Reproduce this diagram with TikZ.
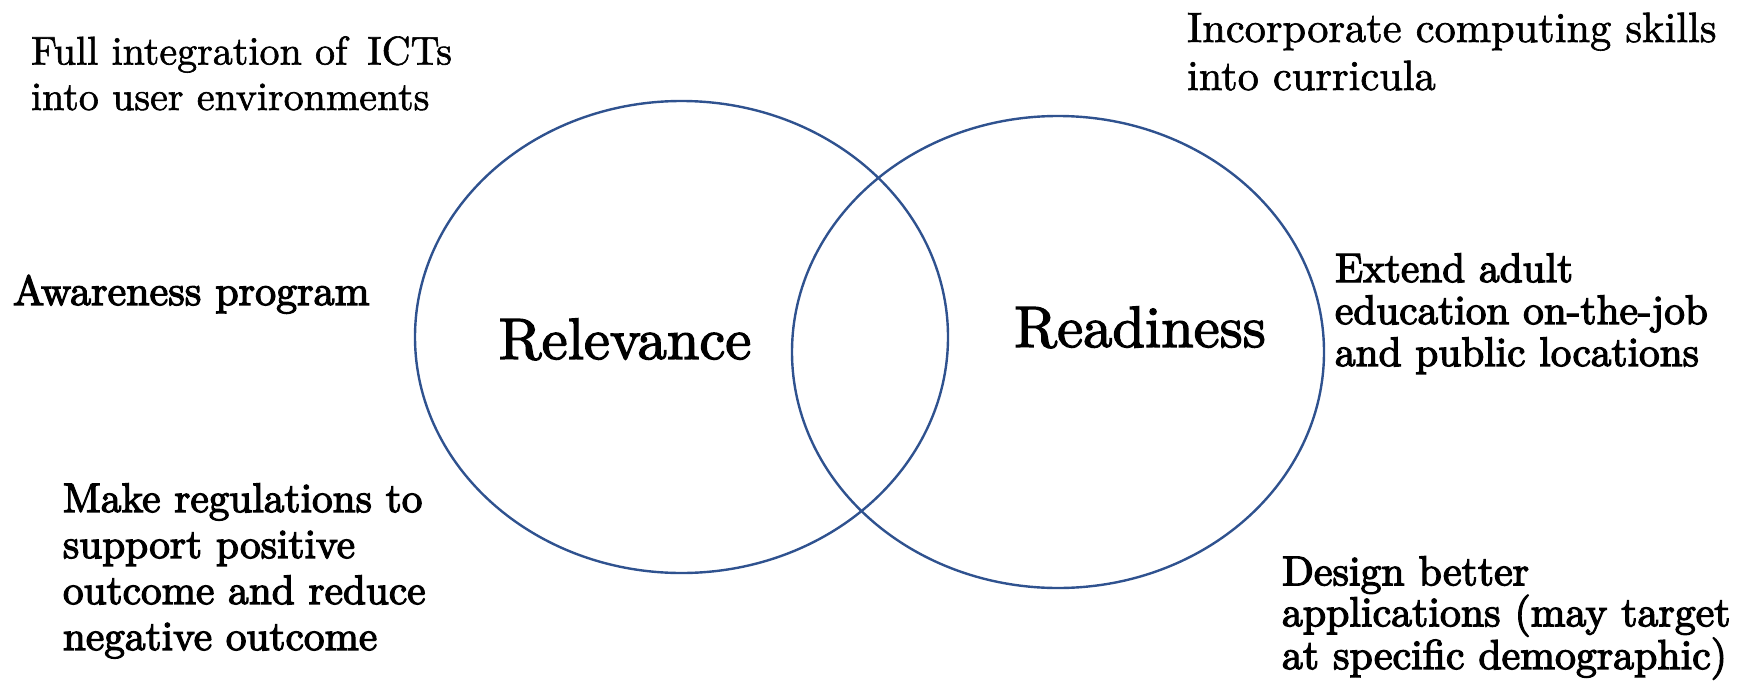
\documentclass[tikz,border=0pt]{standalone}
\usepackage{fontspec}
\setmainfont{lmroman10-regular.otf}
\newfontfamily\lmheavy{lmroman10-regular.otf}[FakeBold=3]
\newfontfamily\lmmid{lmroman10-regular.otf}[FakeBold=1.5]
\newfontfamily\lmtitle{lmroman10-regular.otf}[FakeBold=2.2]
\definecolor{vennblue}{HTML}{2F528F}
\tikzset{
  venn/.style={draw=vennblue, line width=2.4pt},
  lbl/.style={anchor=base west, align=left, inner sep=0pt, outer sep=0pt},
  title/.style={anchor=base, inner sep=0pt, font=\lmtitle\fontsize{58.5}{60}\selectfont}
}
\begin{document}
\begin{tikzpicture}[x=1pt,y=-1pt]
\useasboundingbox (0,0) rectangle (1743,683);
\draw[venn] (681.5,337) ellipse [x radius=266.5, y radius=236];
\draw[venn] (1058,352) ellipse [x radius=266, y radius=236];
\node[title] (rel) at (625,359) {Relevance};
\node[title] (rea) at (1140,347) {Readiness};
% anchor = baseline of the LAST line
\node[lbl, font=\lmmid\fontsize{40}{45.5}\selectfont] (full) at (31,110) {Full integration of\hspace{0.5em}ICTs\\into user environments};
\node[lbl, font=\lmmid\fontsize{42.4}{48}\selectfont] (inc) at (1187,90) {Incorporate computing skills\\into curricula};
\node[lbl, font=\lmheavy\fontsize{42}{45}\selectfont] (aw) at (13,305) {Awareness program};
\node[lbl, font=\lmheavy\fontsize{41.3}{42}\selectfont] (ext) at (1335,366) {Extend adult\\education on-the-job\\and public locations};
\node[lbl, font=\lmheavy\fontsize{41.3}{46}\selectfont] (mk) at (63,650) {Make regulations to\\support positive\\outcome and reduce\\negative outcome};
\node[lbl, font=\lmheavy\fontsize{41.8}{39}\selectfont] (des) at (1282,669) {Design better\\applications (may target\\at specific demographic)};
\end{tikzpicture}
\end{document}
